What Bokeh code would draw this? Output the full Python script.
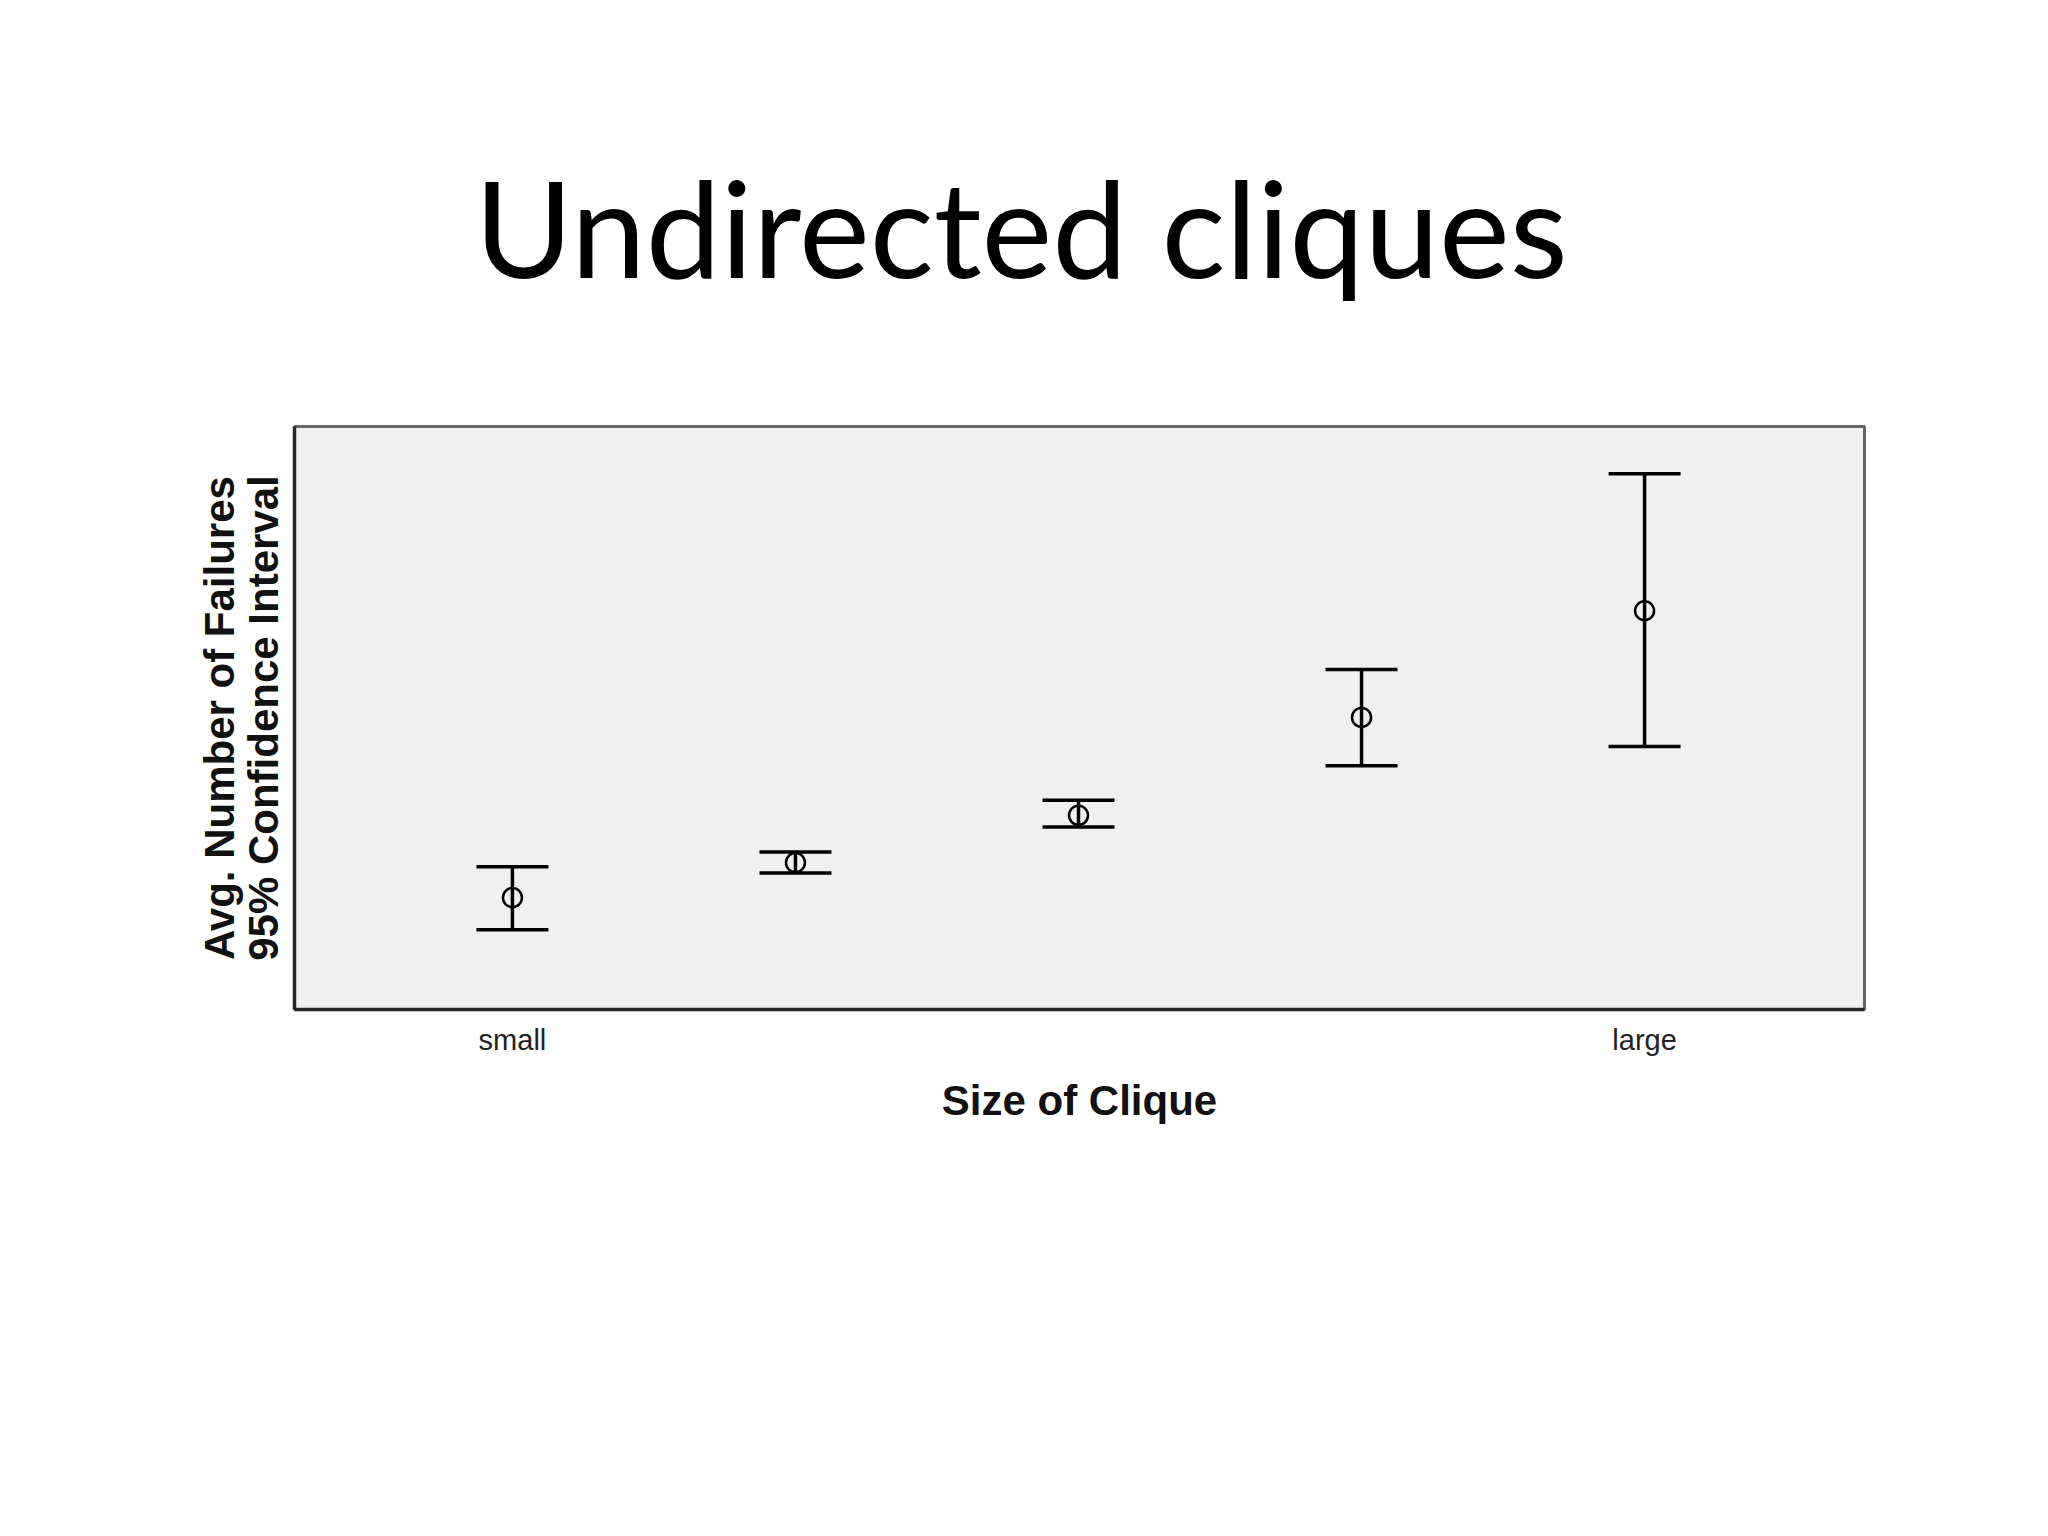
from bokeh.plotting import figure
from bokeh.models import ColumnDataSource, Whisker, TeeHead, FixedTicker, Range1d, Title
from bokeh.embed import file_html
from bokeh.resources import INLINE

# ---- data (y in arbitrary units, axis has no tick labels) ----
positions = [1, 2, 3, 4, 5]
tick_labels = {1: "small", 5: "large"}
means = [1.92, 2.52, 3.33, 5.01, 6.84]
upper = [2.45, 2.70, 3.59, 5.83, 9.19]
lower = [1.37, 2.34, 3.13, 4.18, 4.51]

title_text = "Undirected cliques"
x_label = "Size of Clique"
y_label = "Avg. Number of Failures\n95% Confidence Interval"

src = ColumnDataSource(dict(x=positions, mean=means, upper=upper, lower=lower))

p = figure(
    width=2032, height=1518,
    output_backend="svg", toolbar_location=None,
    x_range=Range1d(0.23, 5.777), y_range=Range1d(0, 10),
    min_border_left=294, min_border_right=168,
    min_border_top=426, min_border_bottom=509,
)
p.title = Title(text=title_text, align="left", text_font="Lato",
                text_font_size="134px", text_font_style="normal",
                text_color="black", standoff=240, offset=180)

p.background_fill_color = "#f0f0f0"
p.border_fill_color = "white"
p.outline_line_color = "#666666"
p.outline_line_width = 3
p.xgrid.visible = False
p.ygrid.visible = False

# x axis
xa = p.xaxis[0]
xa.ticker = FixedTicker(ticks=list(tick_labels.keys()))
xa.major_label_overrides = tick_labels
xa.major_tick_line_color = None
xa.minor_tick_line_color = None
xa.major_tick_out = 0
xa.major_tick_in = 0
xa.axis_line_color = "#262626"
xa.axis_line_width = 3.5
xa.major_label_text_font = "Liberation Sans"
xa.major_label_text_font_size = "29px"
xa.major_label_text_color = "#222222"
xa.major_label_standoff = 14
xa.axis_label = x_label
xa.axis_label_text_font = "Liberation Sans"
xa.axis_label_text_font_style = "bold"
xa.axis_label_text_font_size = "42px"
xa.axis_label_text_color = "#111111"
xa.axis_label_standoff = 18

# y axis
ya = p.yaxis[0]
ya.ticker = FixedTicker(ticks=[])
ya.major_tick_line_color = None
ya.minor_tick_line_color = None
ya.major_tick_out = 0
ya.major_tick_in = 0
ya.major_label_text_font_size = "0px"
ya.axis_line_color = "#262626"
ya.axis_line_width = 3.5
ya.axis_label = y_label
ya.axis_label_text_font = "Liberation Sans"
ya.axis_label_text_font_style = "bold"
ya.axis_label_text_font_size = "42px"
ya.axis_label_text_color = "#111111"
ya.axis_label_text_line_height = 0.93
ya.axis_label_standoff = 8

# error bars
w = Whisker(source=src, base="x", upper="upper", lower="lower",
            line_color="black", line_width=3.5,
            upper_head=TeeHead(size=72, line_color="black", line_width=3.5),
            lower_head=TeeHead(size=72, line_color="black", line_width=3.5))
p.add_layout(w)

p.scatter("x", "mean", source=src, marker="circle", size=19,
          fill_color=None, line_color="black", line_width=2.5)

open("out.html", "w").write(file_html(p, INLINE))
